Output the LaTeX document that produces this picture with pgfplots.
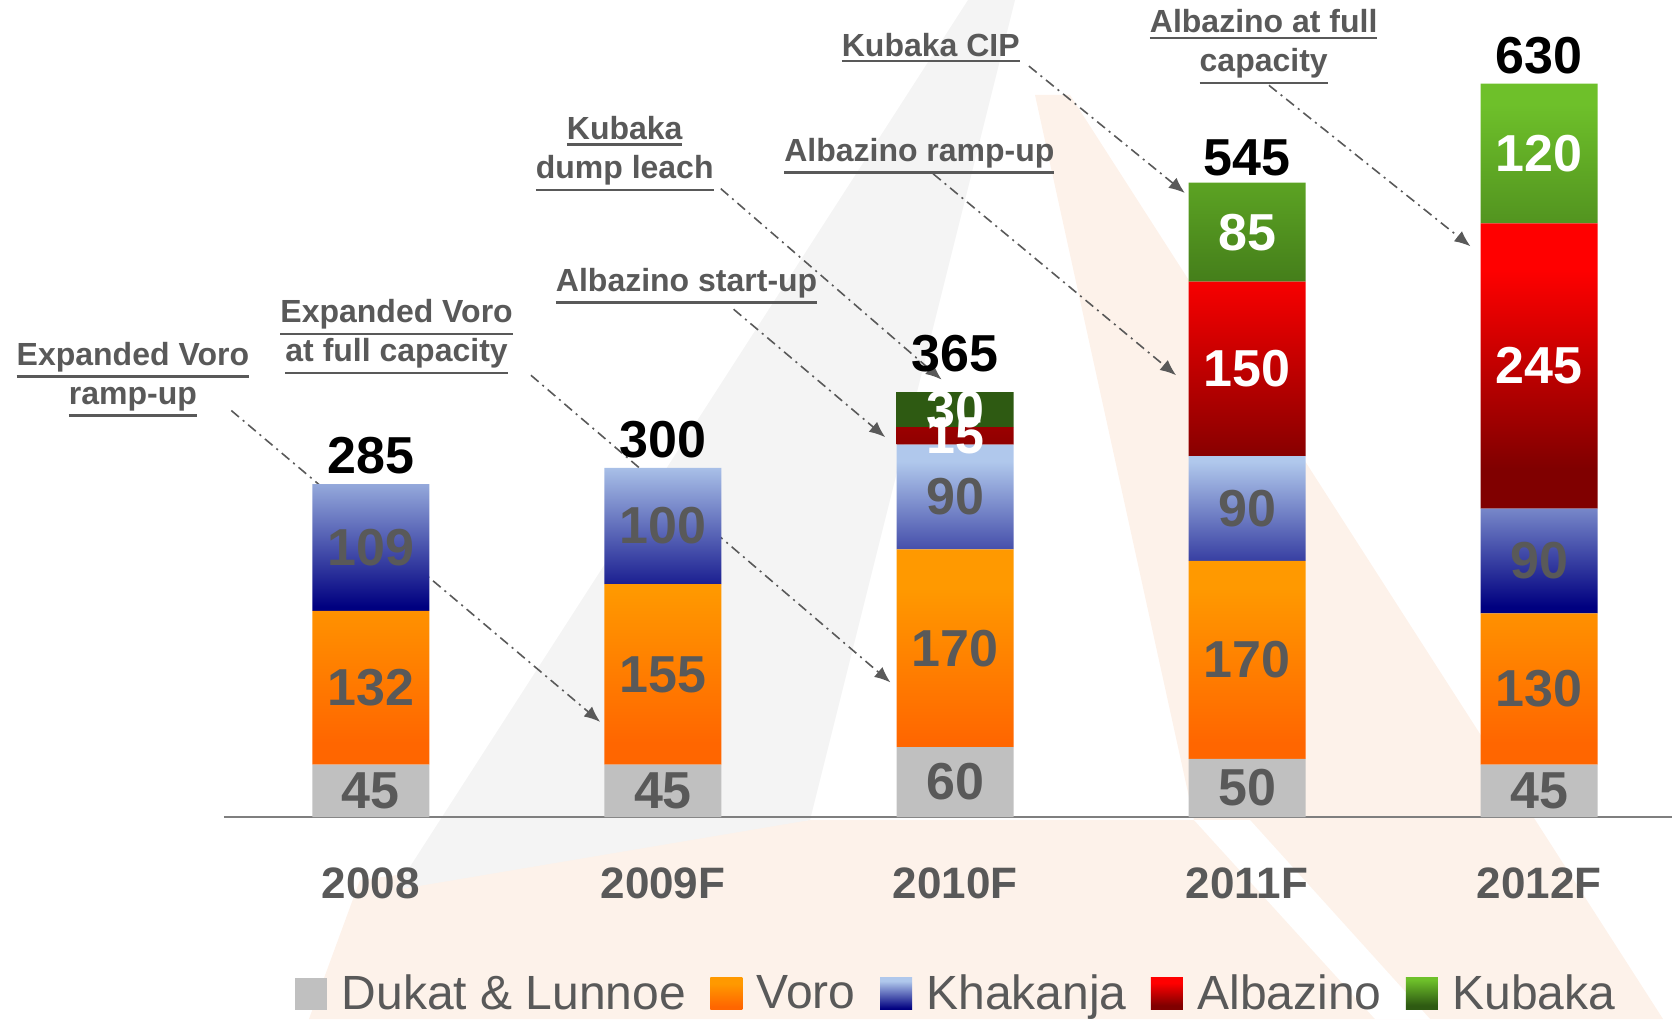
\documentclass[border=0pt]{standalone}
\usepackage{pgfplots}
\pgfplotsset{compat=1.18}
\usepackage{fontspec}
\setmainfont{Liberation Sans}
\usetikzlibrary{arrows.meta}

\definecolor{txt}{HTML}{595959}
\definecolor{dukat}{HTML}{C0C0C0}
\definecolor{voroT}{HTML}{FF9900}
\definecolor{voroB}{HTML}{FF6600}
\definecolor{khaT}{HTML}{B0C8EC}
\definecolor{khaB}{HTML}{000080}
\definecolor{albT}{HTML}{FF0000}
\definecolor{albB}{HTML}{800000}
\definecolor{kubT}{HTML}{6EC02A}
\definecolor{kubB}{HTML}{2E5A12}
\definecolor{axline}{HTML}{7F7F7F}
\definecolor{wmgray}{HTML}{F4F4F4}
\definecolor{wmpeach}{HTML}{FDF2EA}

% vertical shadings, flat for a bit at both ends
\pgfdeclareverticalshading{voro}{100bp}{color(0bp)=(voroB); color(30bp)=(voroB); color(66bp)=(voroT); color(100bp)=(voroT)}
\pgfdeclareverticalshading{kha}{100bp}{color(0bp)=(khaB); color(27bp)=(khaB); color(70bp)=(khaT); color(100bp)=(khaT)}
\pgfdeclareverticalshading{alb}{100bp}{color(0bp)=(albB); color(32bp)=(albB); color(67bp)=(albT); color(100bp)=(albT)}
\pgfdeclareverticalshading{kub}{100bp}{color(0bp)=(kubB); color(32bp)=(kubB); color(72bp)=(kubT); color(100bp)=(kubT)}

% underline below the text's depth
\newcommand\ul[1]{\leavevmode\setbox0\hbox{#1}\dimen0=\dp0\advance\dimen0 by 3pt\rlap{\raisebox{-\dimen0}{\rule{\wd0}{1.2pt}}}\box0}

\tikzset{
  ann/.style={align=center, text=txt, font=\fontsize{16}{19.5}\selectfont\bfseries, inner sep=0pt},
  arr/.style={draw=txt, line width=0.8pt, dash pattern=on 5pt off 2.5pt on 1pt off 2.5pt, -{Latex[length=8pt,width=6.5pt]}},
  tot/.style={anchor=base, yshift=5.3pt, font=\fontsize{26}{30}\selectfont\bfseries, text=black},
}
\pgfplotsset{
  geom/.style={
    at={(112pt,101pt)}, anchor=south west,
    scale only axis, width=724pt, height=407.4pt,
    xmin=-0.503, xmax=4.455, ymin=0, ymax=700, clip=false},
}

\begin{document}
\begin{tikzpicture}
\useasboundingbox (0,0) rectangle (836pt,509.5pt);
% faint logo in the background
\fill[wmpeach] (517.5pt,462pt) -- (535pt,462pt) -- (831.5pt,0pt) -- (154.5pt,0pt)
  -- (180pt,69.5pt) -- (405pt,99.5pt) -- (597pt,99.5pt) -- cycle;
\fill[white] (597pt,99.5pt) -- (625pt,99.5pt) -- (715pt,0pt) -- (687.5pt,0pt) -- cycle;
\fill[wmgray] (484pt,509.5pt) -- (507.5pt,509.5pt) -- (405pt,99.5pt) -- (197.5pt,64.5pt) -- cycle;

% arrows in an axis of their own, below the bars
\begin{axis}[geom, hide axis]
\draw[arr] (axis cs:-0.478,349.2) -- (axis cs:0.785,81.7);
\draw[arr] (axis cs:0.548,379.5) -- (axis cs:1.779,115.6);
\draw[arr] (axis cs:1.242,436.2) -- (axis cs:1.761,326.3);
\draw[arr] (axis cs:1.198,539.8) -- (axis cs:1.954,375.8);
\draw[arr] (axis cs:1.925,552.6) -- (axis cs:2.757,379.5);
\draw[arr] (axis cs:2.253,645.1) -- (axis cs:2.787,536.1);
\draw[arr] (axis cs:3.075,628.6) -- (axis cs:3.765,490.3);
\end{axis}

\begin{axis}[
  geom,
  ybar stacked, bar width=58.5pt,
  axis x line*=bottom, axis y line=none,
  x axis line style={draw=axline, line width=1pt},
  xtick={0,1,2,3,4}, xticklabels={2008,2009F,2010F,2011F,2012F},
  major tick length=0pt,
  xticklabel style={font=\fontsize{22}{26}\selectfont\bfseries, text=txt, anchor=center, yshift=-33pt},
  nodes near coords=\pgfplotspointmeta, point meta=explicit symbolic,
  nodes near coords align={center},
  every node near coord/.append style={anchor=center, font=\fontsize{26}{30}\selectfont\bfseries},
  legend style={at={(0.510,-0.217)}, anchor=center, draw=none, fill=none,
    font=\fontsize{24}{28}\selectfont, text=txt, legend columns=-1,
    /tikz/every even column/.append style={column sep=5pt},
    nodes={inner xsep=7.2pt}},
]
\addplot[fill=dukat, draw=none, nodes near coords style={text=txt},
  legend image code/.code={\path[fill=dukat] (0pt,-8pt) rectangle (16pt,8pt);}]
  coordinates {(0,45)[45] (1,45)[45] (2,60)[60] (3,50)[50] (4,45)[45]};
\addplot[shading=voro, draw=none, nodes near coords style={text=txt},
  legend image code/.code={\path[shading=voro] (0pt,-8pt) rectangle (16pt,8pt);}]
  coordinates {(0,132)[132] (1,155)[155] (2,170)[170] (3,170)[170] (4,130)[130]};
\addplot[shading=kha, draw=none, nodes near coords style={text=txt},
  legend image code/.code={\path[shading=kha] (0pt,-8pt) rectangle (16pt,8pt);}]
  coordinates {(0,109)[109] (1,100)[100] (2,90)[90] (3,90)[90] (4,90)[90]};
\addplot[shading=alb, draw=none, nodes near coords style={text=white},
  legend image code/.code={\path[shading=alb] (0pt,-8pt) rectangle (16pt,8pt);}]
  coordinates {(0,0)[] (1,0)[] (2,15)[15] (3,150)[150] (4,245)[245]};
\addplot[shading=kub, draw=none, nodes near coords style={text=white},
  legend image code/.code={\path[shading=kub] (0pt,-8pt) rectangle (16pt,8pt);}]
  coordinates {(0,0)[] (1,0)[] (2,30)[30] (3,85)[85] (4,120)[120]};
\legend{Dukat \& Lunnoe, Voro, Khakanja, Albazino, Kubaka}

% totals
\node[tot] at (axis cs:0,286) {285};
\node[tot] at (axis cs:1,300) {300};
\node[tot, yshift=4.8pt] at (axis cs:2,365) {365};
\node[tot, yshift=-1.5pt] at (axis cs:3,545) {545};
\node[tot] at (axis cs:4,630) {630};

% annotations
\node[ann] at (axis cs:-0.815,376) {\ul{Expanded Voro}\\\ul{ramp-up}};
\node[ann] at (axis cs:0.088,412.5) {\ul{Expanded Voro}\\\ul{at full capacity}};
\node[ann] at (axis cs:1.081,456.4) {\ul{Albazino start-up}};
\node[ann] at (axis cs:0.869,570) {\ul{Kubaka}\\\ul{dump leach}};
\node[ann] at (axis cs:1.878,568.1) {\ul{Albazino ramp-up}};
\node[ann] at (axis cs:1.917,661) {\ul{Kubaka CIP}};
\node[ann] at (axis cs:3.057,661.6) {\ul{Albazino at full}\\\ul{capacity}};
\end{axis}
\end{tikzpicture}
\end{document}
